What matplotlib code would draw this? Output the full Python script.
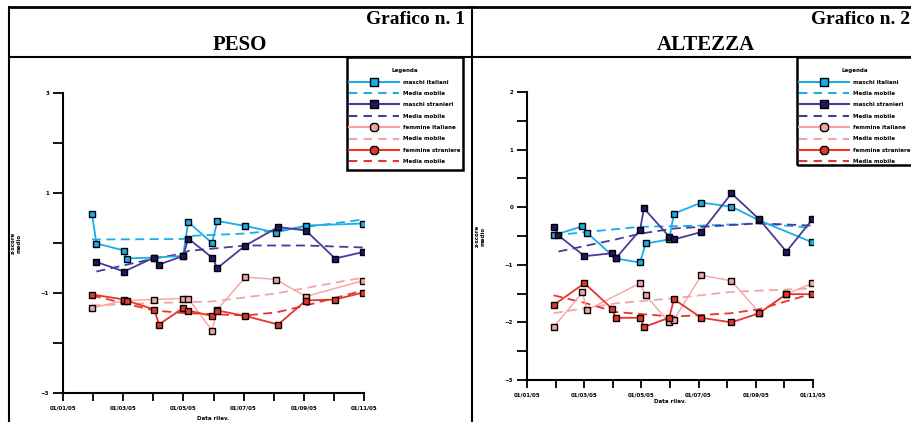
import matplotlib

matplotlib.use("Agg")
import matplotlib.pyplot as plt  # noqa: E402
from matplotlib.lines import Line2D  # noqa: E402
from matplotlib.patches import Rectangle  # noqa: E402

# ---- data (z-score medio per rilevazione) ----
peso_mi_x = [0.96, 1.11, 2.03, 2.11, 3.03, 3.99, 4.16, 4.95, 5.13, 6.06, 7.07, 8.07, 9.98]
peso_mi_y = [0.59, -0.01, -0.15, -0.31, -0.29, -0.26, 0.42, 0.00, 0.44, 0.34, 0.21, 0.35, 0.39]
peso_mi_tr_x = [0.96, 3.99, 4.16, 6.06, 7.07, 8.07, 9.98]
peso_mi_tr_y = [0.07, 0.08, 0.14, 0.19, 0.25, 0.32, 0.47]

peso_ms_x = [1.11, 2.03, 3.03, 3.19, 3.99, 4.16, 4.95, 5.13, 6.06, 7.15, 8.07, 9.04, 9.98]
peso_ms_y = [-0.38, -0.57, -0.29, -0.43, -0.26, 0.09, -0.29, -0.50, -0.05, 0.32, 0.25, -0.31, -0.18]
peso_ms_tr_x = [1.11, 3.03, 3.99, 4.16, 6.06, 8.07, 9.98]
peso_ms_tr_y = [-0.57, -0.31, -0.21, -0.16, -0.05, -0.05, -0.09]

peso_fi_x = [0.96, 2.03, 3.03, 3.99, 4.16, 4.95, 5.13, 6.06, 7.07, 8.07, 9.98]
peso_fi_y = [-1.30, -1.15, -1.13, -1.11, -1.11, -1.75, -1.33, -0.68, -0.73, -1.07, -0.75]
peso_fi_tr_x = [0.96, 3.03, 4.95, 7.07, 9.98]
peso_fi_tr_y = [-1.25, -1.20, -1.17, -1.01, -0.69]

peso_fs_x = [0.96, 2.03, 2.11, 3.03, 3.19, 3.99, 4.16, 4.95, 5.13, 6.06, 7.15, 8.07, 9.04, 9.98]
peso_fs_y = [-1.03, -1.13, -1.15, -1.33, -1.63, -1.30, -1.35, -1.46, -1.35, -1.46, -1.63, -1.15, -1.13, -0.99]
peso_fs_tr_x = [0.96, 3.03, 3.99, 6.06, 7.07, 8.07, 9.98]
peso_fs_tr_y = [-1.05, -1.35, -1.40, -1.45, -1.39, -1.25, -0.95]

alt_mi_x = [0.93, 1.94, 2.09, 3.10, 3.95, 4.15, 4.97, 5.14, 6.10, 7.15, 8.12, 9.98]
alt_mi_y = [-0.49, -0.33, -0.44, -0.89, -0.96, -0.63, -0.56, -0.11, 0.08, 0.01, -0.23, -0.61]
alt_mi_tr_x = [0.93, 2.09, 3.95, 6.10, 8.12, 9.98]
alt_mi_tr_y = [-0.49, -0.43, -0.34, -0.32, -0.28, -0.36]

alt_ms_x = [0.93, 1.10, 2.01, 2.97, 3.10, 3.95, 4.09, 4.97, 5.14, 6.10, 7.15, 8.12, 9.07, 9.98]
alt_ms_y = [-0.34, -0.49, -0.85, -0.80, -0.89, -0.40, -0.02, -0.51, -0.56, -0.43, 0.24, -0.21, -0.77, -0.21]
alt_ms_tr_x = [1.10, 3.10, 3.95, 5.14, 7.15, 8.12, 9.98]
alt_ms_tr_y = [-0.77, -0.56, -0.46, -0.37, -0.31, -0.28, -0.32]

alt_fi_x = [0.93, 1.94, 2.09, 3.95, 4.15, 4.97, 5.14, 6.10, 7.15, 8.12, 9.07, 9.98]
alt_fi_y = [-2.08, -1.48, -1.79, -1.32, -1.53, -2.00, -1.95, -1.18, -1.28, -1.83, -1.51, -1.32]
alt_fi_tr_x = [0.93, 3.10, 5.14, 7.15, 9.98]
alt_fi_tr_y = [-1.84, -1.67, -1.58, -1.47, -1.41]

alt_fs_x = [0.93, 2.01, 2.97, 3.10, 3.95, 4.09, 4.97, 5.14, 6.10, 7.15, 8.12, 9.07, 9.98]
alt_fs_y = [-1.70, -1.32, -1.76, -1.92, -1.92, -2.08, -1.92, -1.60, -1.92, -2.00, -1.84, -1.51, -1.51]
alt_fs_tr_x = [0.93, 2.01, 3.10, 5.14, 7.15, 8.12, 9.98]
alt_fs_tr_y = [-1.53, -1.66, -1.82, -1.90, -1.84, -1.77, -1.50]

x_ticklabels = ["01/01/05", "01/03/05", "01/05/05", "01/07/05", "01/09/05", "01/11/05"]
series_names = ["maschi italiani", "maschi stranieri", "femmine italiane", "femmine straniere"]
trend_name = "Media mobile"

colors = ["#19aee6", "#4a3a98", "#f5a3a3", "#e8352b"]
face_colors = ["#19aee6", "#231466", "#f5a3a3", "#e8352b"]
leg_markers = ["s", "s", "8", "8"]
line_w = [1.3, 1.3, 1.0, 1.3]

W, H = 911, 422
fig = plt.figure(figsize=(W / 100, H / 100), dpi=100)
fig.patch.set_facecolor("white")


def fx(px):
    return px / W


def fy(py):
    return 1 - py / H


# frame lines of the scanned table
for (x0, y0, x1, y1, lw) in [
    (9, 7, 911, 7, 2.0),
    (9, 57, 911, 57, 1.5),
    (9, 7, 9, 422, 1.5),
    (472, 7, 472, 422, 1.5),
]:
    fig.add_artist(Line2D([fx(x0), fx(x1)], [fy(y0), fy(y1)], color="black", lw=lw))

serif = "Liberation Serif"
fig.text(fx(465), fy(20), "Grafico n. 1", ha="right", va="center", fontsize=14,
         fontweight="bold", family=serif)
fig.text(fx(240), fy(45), "PESO", ha="center", va="center", fontsize=15,
         fontweight="bold", family=serif)
fig.text(fx(910), fy(20), "Grafico n. 2", ha="right", va="center", fontsize=14,
         fontweight="bold", family=serif)
fig.text(fx(706), fy(45), "ALTEZZA", ha="center", va="center", fontsize=15,
         fontweight="bold", family=serif)


def draw_panel(rect, ylim, yticks, yminor, series, xlabel_pad):
    ax = fig.add_axes(rect)
    for i, (sx, sy, tx, ty) in enumerate(series):
        ax.plot(sx, sy, color=colors[i], lw=line_w[i], marker="s", ms=4,
                mfc=face_colors[i], mec="black", mew=1.0, zorder=3)
        ax.plot(tx, ty, color=colors[i], lw=1.3, ls=(0, (5, 3)), zorder=2)
    ax.set_xlim(0, 10)
    ax.set_ylim(*ylim)
    ax.set_xticks(range(0, 11, 2))
    ax.set_xticks(range(1, 10, 2), minor=True)
    ax.set_xticklabels(x_ticklabels)
    ax.set_yticks(yticks)
    ax.set_yticks(yminor, minor=True)
    for s in ["top", "right"]:
        ax.spines[s].set_visible(False)
    for s in ["left", "bottom"]:
        ax.spines[s].set_linewidth(1.5)
    ax.tick_params(axis="both", which="both", width=1.3, labelsize=4, pad=3)
    ax.tick_params(axis="y", which="both", length=7)
    ax.tick_params(axis="x", which="both", length=6)
    for lab in ax.get_xticklabels() + ax.get_yticklabels():
        lab.set_fontweight("bold")
    ax.set_ylabel("z-score\nmedio", fontsize=4, fontweight="bold", labelpad=14)
    ax.set_xlabel("Data rilev.", fontsize=4, fontweight="bold", labelpad=xlabel_pad)
    ax.set_facecolor("none")
    return ax


peso_series = [
    (peso_mi_x, peso_mi_y, peso_mi_tr_x, peso_mi_tr_y),
    (peso_ms_x, peso_ms_y, peso_ms_tr_x, peso_ms_tr_y),
    (peso_fi_x, peso_fi_y, peso_fi_tr_x, peso_fi_tr_y),
    (peso_fs_x, peso_fs_y, peso_fs_tr_x, peso_fs_tr_y),
]
alt_series = [
    (alt_mi_x, alt_mi_y, alt_mi_tr_x, alt_mi_tr_y),
    (alt_ms_x, alt_ms_y, alt_ms_tr_x, alt_ms_tr_y),
    (alt_fi_x, alt_fi_y, alt_fi_tr_x, alt_fi_tr_y),
    (alt_fs_x, alt_fs_y, alt_fs_tr_x, alt_fs_tr_y),
]

draw_panel([fx(63), fy(393), fx(364) - fx(63), fy(93) - fy(393)],
           (-3, 3), [-3, -1, 1, 3], [-2, 0, 2], peso_series, 4)
draw_panel([fx(527), fy(380), fx(813) - fx(527), fy(92) - fy(380)],
           (-3, 2), [-3, -2, -1, 0, 1, 2], [-2.5, -1.5, -0.5, 0.5, 1.5], alt_series, 1)

handles = []
labels = []
for i in range(4):
    handles.append(Line2D([], [], color=colors[i], lw=1.5, marker=leg_markers[i], ms=6,
                          mfc=face_colors[i], mec="black", mew=1.0))
    labels.append(series_names[i])
    handles.append(Line2D([], [], color=colors[i], lw=1.5, ls=(0, (4, 3))))
    labels.append(trend_name)

# legend boxes: (left px, right px, bottom px)
for (x_left, x_right, y_bot) in [(347, 463, 170), (797, 914, 165)]:
    fig.add_artist(Rectangle((fx(x_left), fy(y_bot)), fx(x_right) - fx(x_left),
                             fy(57) - fy(y_bot), fill=False, edgecolor="black",
                             lw=1.8, transform=fig.transFigure))
    leg = fig.legend(handles, labels, loc="upper left",
                     bbox_to_anchor=(fx(x_left + 1), fy(67)), borderaxespad=0,
                     fontsize=4, title="Legenda", title_fontsize=4,
                     handlelength=9, handletextpad=0.7, labelspacing=1.15,
                     borderpad=0.2, frameon=False)
    for t in leg.get_texts():
        t.set_fontweight("bold")
    leg.get_title().set_fontweight("bold")

fig.savefig("out.png", dpi=100)
